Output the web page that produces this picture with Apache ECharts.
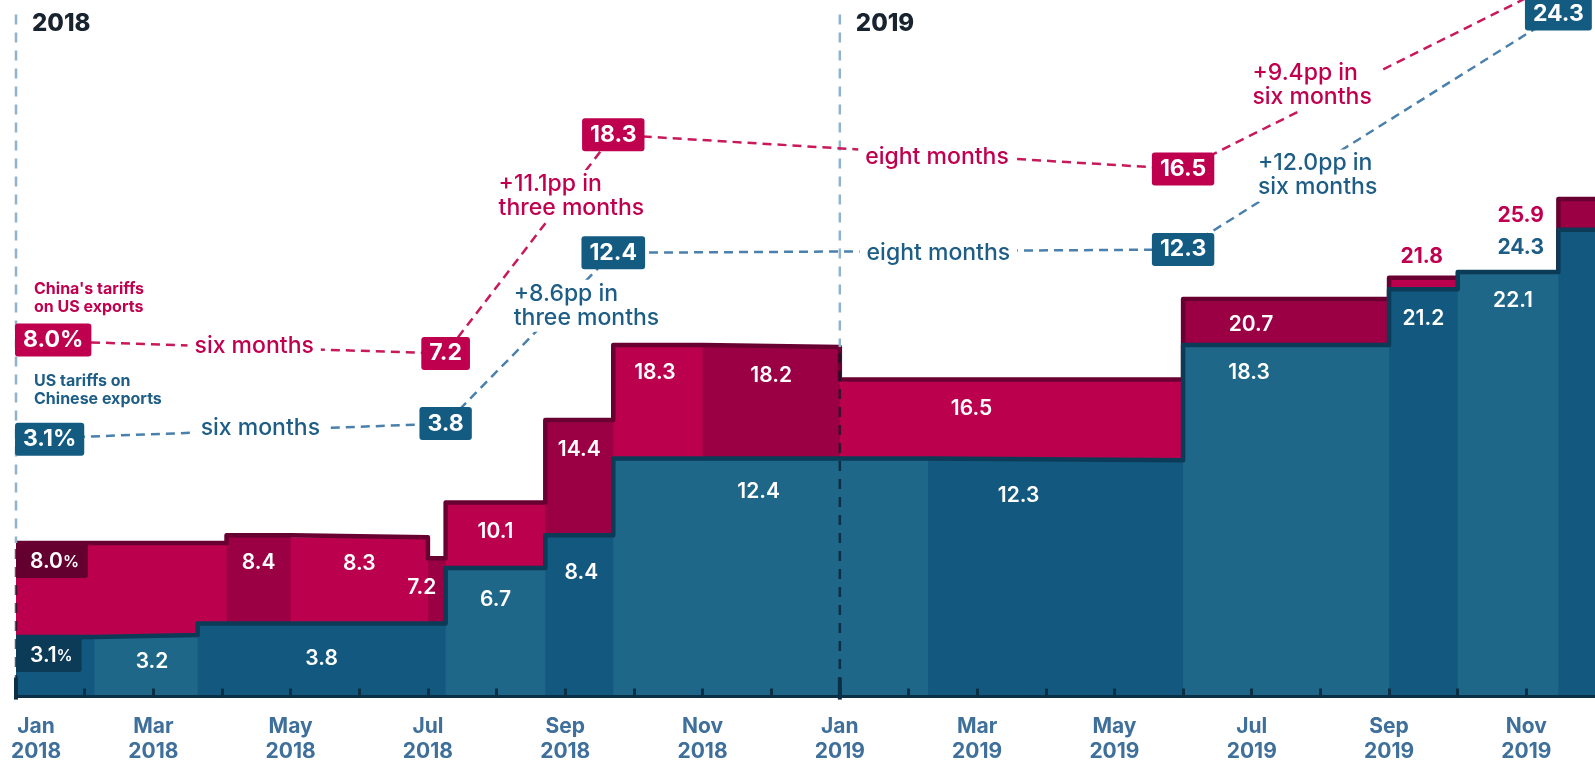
<!DOCTYPE html>
<html>
<head>
<meta charset="utf-8">
<title>US and China tariffs, 2018-2019</title>
<script src="https://cdn.jsdelivr.net/npm/echarts@6.0.0/dist/echarts.min.js"></script>
<style>
  html, body { margin: 0; padding: 0; background: #fff; }
  #chart { width: 1595px; height: 763px; }
</style>
</head>
<body>
<div id="chart"></div>
<script>
// average tariff rates (%), each with the date it took effect
const usDates = ['2018-01-01', '2018-02-05', '2018-03-21', '2018-07-09', '2018-08-23', '2018-09-22',
  '2019-02-09', '2019-06-01', '2019-09-01', '2019-10-01', '2019-11-15'];
const usRates = [3.1, 3.2, 3.8, 6.7, 8.4, 12.4, 12.3, 18.3, 21.2, 22.1, 24.3];

const chinaDates = ['2018-01-01', '2018-04-03', '2018-05-01', '2018-07-01', '2018-07-09', '2018-08-23',
  '2018-09-22', '2018-11-01', '2019-01-01', '2019-06-01', '2019-09-01', '2019-11-15'];
const chinaRates = [8.0, 8.4, 8.3, 7.2, 10.1, 14.4, 18.3, 18.2, 16.5, 20.7, 21.8, 25.9];

const axisEndDate = '2019-12-01';
const monthNames = ['Jan', 'Feb', 'Mar', 'Apr', 'May', 'Jun', 'Jul', 'Aug', 'Sep', 'Oct', 'Nov', 'Dec'];
const yearStarts = ['2018-01-01', '2019-01-01'];

// callouts above the chart
const calloutDates = ['2018-01-01', '2018-07-09', '2018-09-22', '2019-06-01', '2019-11-15'];
const chinaCallouts = [8.0, 7.2, 18.3, 16.5, 25.9];
const usCallouts = [3.1, 3.8, 12.4, 12.3, 24.3];
const chinaNotes = ['six months', '+11.1pp in\nthree months', 'eight months', '+9.4pp in\nsix months'];
const usNotes = ['six months', '+8.6pp in\nthree months', 'eight months', '+12.0pp in\nsix months'];

// layout only: where the callouts sit (in axis units) and label nudges (px)
const chinaCalloutLevels = [18.56, 17.86, 29.25, 27.46, 37.2];
const usCalloutLevels = [13.4, 14.21, 23.1, 23.27, 35.53];
const chinaNoteAt = [[2.60, 18.25], [7.03, 26.06], [12.37, 28.1], [18.01, 31.84]];
const usNoteAt = [[2.69, 13.98], [7.25, 20.34], [12.39, 23.09], [18.09, 27.13]];
const usLabelMode = ['box', 'in', 'in', 'in', 'in', 'in', 'in', 'in', 'in', 'in', 'left'];
const usLabelNudge = [[0, 0], [6, 27], [0, 35], [0, 32], [2, 37], [-12, 33], [-37, 35], [-37, 28], [0, 29], [5, 29], [-56, 18]];
const chinaLabelMode = ['box', 'in', 'in', 'in', 'in', 'in', 'in', 'in', 'in', 'in', 'above', 'left'];
const chinaLabelNudge = [[0, 0], [0, 27], [0, 27], [-15, 29], [0, 29], [0, 30], [-3, 28], [0, 29], [-40, 29], [-35, 26], [-52, -21], [-56, 17]];

const FONT = 'Inter, "Noto Sans", sans-serif';
const RED = { light: '#bb004e', dark: '#9b0044', edge: '#690032', box: '#640030', text: '#c0004f', dash: '#c8195a', tag: '#be004f' };
const BLUE = { light: '#1f6789', dark: '#13597f', edge: '#0b3b57', box: '#0c3b58', text: '#1d5d86', dash: '#4a80ab', tag: '#145b82' };

function monthIndex(d) {
  const [y, m, day] = d.split('-').map(Number);
  const days = new Date(y, m, 0).getDate();
  return (y - 2018) * 12 + (m - 1) + (day - 1) / days;
}
const xMax = monthIndex(axisEndDate);

function toRows(dates, rates) {
  const starts = dates.map(monthIndex);
  return rates.map((v, i) => [starts[i], i + 1 < starts.length ? starts[i + 1] : xMax, v, i]);
}
const usRows = toRows(usDates, usRates);
const chinaRows = toRows(chinaDates, chinaRates);

function stepLine(rows) {
  const pts = [];
  rows.forEach(r => { pts.push([r[0], r[2]], [r[1], r[2]]); });
  return pts;
}

function topAt(m) {
  let top = 0;
  usRows.concat(chinaRows).forEach(r => {
    if (r[0] <= m + 1e-6 && r[1] >= m - 1e-6) top = Math.max(top, r[2]);
  });
  return top;
}

function fillSeries(rows, colors, darkFirst, z) {
  return {
    type: 'custom', z: z, silent: true, data: rows, encode: { x: [0, 1], y: 2 },
    renderItem(params, api) {
      const i = api.value(3);
      const a = api.coord([api.value(0), api.value(2)]);
      const b = api.coord([api.value(1), 0]);
      const dark = (i % 2 === 0) === darkFirst;
      return {
        type: 'rect',
        shape: { x: a[0], y: a[1], width: b[0] - a[0] + 0.8, height: b[1] - a[1] },
        style: { fill: dark ? colors.dark : colors.light }
      };
    }
  };
}

function edgeSeries(rows, colors, z) {
  return {
    type: 'line', z: z, silent: true, data: stepLine(rows), symbol: 'none',
    lineStyle: { color: colors.edge, width: 4.5, join: 'round', cap: 'butt' }
  };
}

function labelSeries(rows, colors, modes, nudges, z) {
  return {
    type: 'custom', z: z, silent: true, data: rows, encode: { x: [0, 1], y: 2 },
    renderItem(params, api) {
      const i = api.value(3), v = api.value(2);
      const a = api.coord([api.value(0), v]);
      const b = api.coord([api.value(1), v]);
      const mode = modes[i];
      const txt = v.toFixed(1);
      if (mode === 'box') {
        return {
          type: 'text',
          style: {
            text: '{n|' + txt + '}{p|%}', x: a[0], y: a[1] + 2, align: 'left', verticalAlign: 'top',
            backgroundColor: colors.box, padding: [5, 9, 4, 14], borderRadius: [0, 0, 3, 0],
            rich: {
              n: { fill: '#fff', fontFamily: FONT, fontSize: 21, fontWeight: 600, lineHeight: 24 },
              p: { fill: '#fff', fontFamily: FONT, fontSize: 16, fontWeight: 600, lineHeight: 24 }
            }
          }
        };
      }
      const nd = nudges[i];
      return {
        type: 'text',
        style: {
          text: txt, x: (a[0] + b[0]) / 2 + nd[0], y: a[1] + nd[1], align: 'center', verticalAlign: 'middle',
          fill: mode === 'in' ? '#fff' : colors.text,
          fontFamily: FONT, fontSize: 21, fontWeight: mode === 'in' ? 600 : 700
        }
      };
    }
  };
}

function calloutParts(api, values, levels, notes, noteAt, colors, title, titleLift) {
  const pts = calloutDates.map((d, i) => api.coord([monthIndex(d), levels[i]]));
  const lines = [{
    type: 'polyline', shape: { points: pts },
    style: { stroke: colors.dash, lineWidth: 2.5, lineDash: [9, 6], fill: null }
  }];
  const texts = notes.map((t, i) => {
    const p = api.coord(noteAt[i]);
    return {
      type: 'text',
      style: {
        text: t, x: p[0] - 7, y: p[1], align: 'left', verticalAlign: 'middle', fill: colors.text,
        fontFamily: FONT, fontSize: 23, fontWeight: 500, lineHeight: 24,
        backgroundColor: '#fff', padding: [2, 7]
      }
    };
  });
  texts.push({
    type: 'text',
    style: {
      text: title, x: pts[0][0] + 18, y: pts[0][1] - titleLift, align: 'left', verticalAlign: 'bottom',
      fill: colors.text, fontFamily: FONT, fontSize: 16, fontWeight: 700, lineHeight: 18
    }
  });
  const boxes = values.map((v, i) => ({
    type: 'text',
    style: {
      text: v.toFixed(1) + (i === 0 ? '%' : ''), x: i === 0 ? pts[i][0] - 1 : pts[i][0], y: pts[i][1],
      align: i === 0 ? 'left' : 'center', verticalAlign: 'middle', fill: '#fff',
      fontFamily: FONT, fontSize: 23, fontWeight: 700, lineHeight: 25,
      backgroundColor: colors.tag, borderRadius: 3, padding: [4, 8, 4, 8]
    }
  }));
  return { lines, texts, boxes };
}

const chart = echarts.init(document.getElementById('chart'));
chart.setOption({
  animation: false,
  grid: { left: 16, right: 0, top: 5, bottom: 66.4, outerBoundsMode: 'none' },
  xAxis: {
    type: 'value', min: 0, max: xMax, interval: 1, offset: 2, z: 10,
    splitLine: { show: false },
    axisLine: { show: true, lineStyle: { color: '#0b2f45', width: 3 } },
    axisTick: { show: true, inside: true, length: 8, lineStyle: { color: '#0b2f45', width: 3 } },
    axisLabel: {
      show: true, color: '#3f6f9b', fontFamily: FONT, fontSize: 21, fontWeight: 700, lineHeight: 24.5,
      margin: 16, showMinLabel: true, showMaxLabel: false,
      formatter: function (v) {
        if (v % 2 !== 0 || v > 22) return '';
        const name = monthNames[v % 12], yr = 2018 + Math.floor(v / 12);
        return v === 0 ? '{first|' + name + '}\n{first|' + yr + '}' : name + '\n' + yr;
      },
      rich: {
        first: { padding: [0, 0, 0, 40], color: '#3f6f9b', fontFamily: FONT, fontSize: 21, fontWeight: 700, lineHeight: 24.5 }
      }
    }
  },
  yAxis: { type: 'value', min: 0, max: 36, show: false },
  series: [
    fillSeries(chinaRows, RED, false, 1),
    edgeSeries(chinaRows, RED, 2),
    fillSeries(usRows, BLUE, true, 3),
    edgeSeries(usRows, BLUE, 4),
    {
      type: 'custom', z: 5, silent: true,
      data: yearStarts.map(d => [monthIndex(d), 0]), encode: { x: 0, y: 1 },
      renderItem(params, api) {
        const m = api.value(0);
        const top = api.coord([m, 35.5]);
        const fillTop = api.coord([m, topAt(m)]);
        const base = api.coord([m, 0]);
        return {
          type: 'group',
          children: [
            { type: 'line', shape: { x1: top[0], y1: top[1], x2: fillTop[0], y2: fillTop[1] },
              style: { stroke: '#8fb2cd', lineWidth: 2.5, lineDash: [10, 8] } },
            { type: 'line', shape: { x1: fillTop[0], y1: fillTop[1] + 6, x2: base[0], y2: base[1] },
              style: { stroke: 'rgba(6,24,38,0.7)', lineWidth: 2.5, lineDash: [10, 8] } },
            { type: 'line', shape: { x1: base[0], y1: base[1] - 19, x2: base[0], y2: base[1] + 3 },
              style: { stroke: '#0b2f45', lineWidth: 4 } },
            { type: 'text', style: { text: String(2018 + Math.round(m / 12)), x: top[0] + 16, y: top[1] + 9,
              align: 'left', verticalAlign: 'middle', fill: '#17232e', fontFamily: FONT, fontSize: 24, fontWeight: 800 } }
          ]
        };
      }
    },
    labelSeries(chinaRows, RED, chinaLabelMode, chinaLabelNudge, 6),
    labelSeries(usRows, BLUE, usLabelMode, usLabelNudge, 6),
    {
      type: 'custom', z: 8, silent: true, data: [[0, 0]], encode: { x: 0, y: 1 },
      renderItem(params, api) {
        const red = calloutParts(api, chinaCallouts, chinaCalloutLevels, chinaNotes, chinaNoteAt, RED, "China's tariffs\non US exports", 24);
        const blue = calloutParts(api, usCallouts, usCalloutLevels, usNotes, usNoteAt, BLUE, 'US tariffs on\nChinese exports', 31);
        return {
          type: 'group',
          children: red.lines.concat(blue.lines, red.texts, blue.texts, red.boxes, blue.boxes)
        };
      }
    }
  ]
});
</script>
</body>
</html>
